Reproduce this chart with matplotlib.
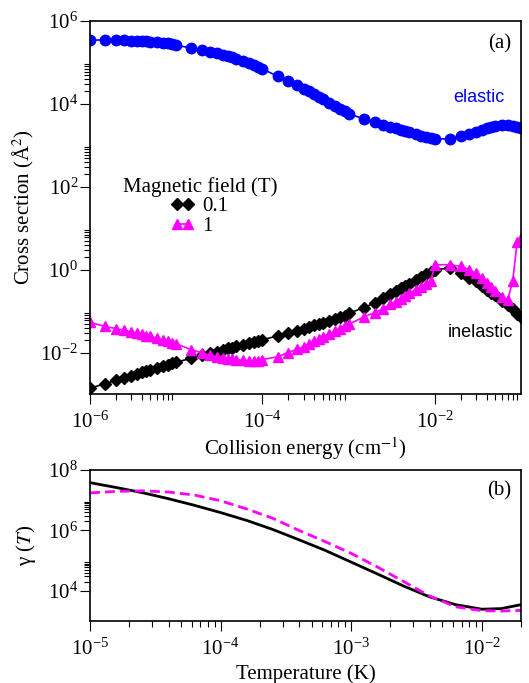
import matplotlib
matplotlib.use('Agg')
import numpy as np
import matplotlib.pyplot as plt
from matplotlib.ticker import FixedLocator, NullFormatter

# ---- panel (a): cross sections vs collision energy ----
mantissas = [1, 1.5, 2, 2.5, 3, 3.5, 4, 4.5, 5, 6, 7, 8, 9]
decades = [-6, -5, -4, -3, -2]
energy = [m * 10.0 ** d for d in decades for m in mantissas] + [0.1]

# log10 of cross section (A^2)
elastic_log10 = [
    5.54, 5.54, 5.535, 5.53, 5.525, 5.52, 5.51, 5.505, 5.50, 5.49, 5.475, 5.46, 5.445,
    5.41, 5.35, 5.30, 5.26, 5.23, 5.19, 5.15, 5.12, 5.09, 5.03, 4.98, 4.93, 4.88,
    4.84, 4.67, 4.55, 4.46, 4.37, 4.30, 4.23, 4.17, 4.12, 4.03, 3.95, 3.88, 3.82,
    3.76, 3.64, 3.56, 3.50, 3.45, 3.41, 3.37, 3.34, 3.31, 3.27, 3.23, 3.20, 3.18,
    3.15, 3.16, 3.22, 3.28, 3.33, 3.37, 3.41, 3.44, 3.46, 3.49, 3.49, 3.47, 3.45, 3.42]
inel_01T_log10 = [
    -2.86, -2.75, -2.67, -2.61, -2.56, -2.52, -2.48, -2.45, -2.42, -2.37, -2.33, -2.29, -2.26,
    -2.23, -2.14, -2.07, -2.02, -1.98, -1.94, -1.90, -1.88, -1.85, -1.81, -1.77, -1.74, -1.71,
    -1.69, -1.60, -1.53, -1.47, -1.42, -1.38, -1.34, -1.31, -1.28, -1.23, -1.18, -1.14, -1.11,
    -1.05, -0.92, -0.80, -0.68, -0.58, -0.51, -0.45, -0.39, -0.34, -0.26, -0.18, -0.11, -0.06,
    0.00, 0.04, -0.08, -0.20, -0.27, -0.39, -0.48, -0.56, -0.62, -0.75, -0.86, -0.96, -1.06, -1.15]
inel_1T_log10 = [
    -1.27, -1.37, -1.42, -1.46, -1.50, -1.53, -1.56, -1.59, -1.61, -1.66, -1.70, -1.73, -1.76,
    -1.79, -1.93, -2.01, -2.07, -2.10, -2.13, -2.15, -2.16, -2.17, -2.19, -2.20, -2.20, -2.20,
    -2.17, -2.10, -2.00, -1.92, -1.86, -1.79, -1.72, -1.67, -1.62, -1.55, -1.48, -1.42, -1.37,
    -1.32, -1.14, -1.04, -0.94, -0.84, -0.77, -0.70, -0.63, -0.57, -0.48, -0.41, -0.34, -0.27,
    0.12, 0.12, 0.08, 0.00, -0.09, -0.19, -0.31, -0.42, -0.52, -0.66, -0.73, -0.27, 0.66, 0.76]

# ---- panel (b): gamma(T) vs temperature ----
temp_log10 = [-5.0, -4.8, -4.6, -4.4, -4.2, -4.0, -3.8, -3.6, -3.4, -3.2,
              -3.0, -2.8, -2.6, -2.4, -2.2, -2.0, -1.85, -1.7]
gamma_01T_log10 = [7.58, 7.42, 7.25, 7.05, 6.83, 6.59, 6.33, 6.03, 5.69, 5.34,
                   4.95, 4.56, 4.16, 3.80, 3.54, 3.39, 3.41, 3.54]
gamma_1T_log10 = [7.24, 7.29, 7.31, 7.27, 7.17, 6.98, 6.71, 6.40, 6.00, 5.63,
                  5.24, 4.79, 4.31, 3.83, 3.47, 3.34, 3.33, 3.35]

BLUE = '#0000ff'
MAGENTA = '#ff00ff'

plt.rcParams['font.family'] = ['Liberation Serif', 'DejaVu Serif']
plt.rcParams['mathtext.fontset'] = 'stix'
plt.rcParams['axes.unicode_minus'] = False


def minor_ticks(exps, lo, hi):
    return [k * 10.0 ** e for e in exps for k in range(2, 10) if lo <= k * 10.0 ** e <= hi]


def style_axis(ax, xmaj, xmin, ymaj, ymin):
    ax.xaxis.set_major_locator(FixedLocator(xmaj))
    ax.xaxis.set_minor_locator(FixedLocator(xmin))
    ax.yaxis.set_major_locator(FixedLocator(ymaj))
    ax.yaxis.set_minor_locator(FixedLocator(ymin))
    ax.xaxis.set_minor_formatter(NullFormatter())
    ax.yaxis.set_minor_formatter(NullFormatter())
    ax.tick_params(which='both', direction='out', top=False, right=False,
                   width=0.8, labelsize=15)
    ax.tick_params(which='major', length=7.5)
    ax.tick_params(which='minor', length=4)
    ax.tick_params(axis='x', which='major', pad=5)
    ax.tick_params(axis='y', which='major', pad=1)
    for s in ax.spines.values():
        s.set_linewidth(1.2)


fig = plt.figure(figsize=(5.29, 6.83), dpi=100)
ax1 = fig.add_axes([0.170, 0.4231, 0.815, 0.5462])
ax2 = fig.add_axes([0.170, 0.0908, 0.815, 0.2211])

# panel (a)
ax1.set_xscale('log')
ax1.set_yscale('log')
ax1.plot(energy, 10 ** np.array(elastic_log10), '-o', color=BLUE, ms=7.5, lw=1.2)
ax1.plot(energy, 10 ** np.array(inel_01T_log10), '-D', color='black', ms=5.8, lw=1.2,
         label='0.1')
ax1.plot(energy, 10 ** np.array(inel_1T_log10), '-^', color=MAGENTA, ms=7.5, lw=1.2,
         label='1')
ax1.set_xlim(1e-6, 1e-1)
ax1.set_ylim(1e-3, 1e6)
style_axis(ax1, [1e-6, 1e-4, 1e-2], minor_ticks([-6, -4, -2], 1e-6, 1e-1),
           [1e-2, 1e0, 1e2, 1e4, 1e6], minor_ticks([-2, 0, 2, 4], 1e-3, 1e6))
ax1.set_xlabel('Collision energy (cm$^{-1}$)', fontsize=15)
ax1.set_ylabel('Cross section (Å$^{2}$)', fontsize=15)
ax1.xaxis.set_label_coords(0.5, -0.11)
ax1.yaxis.set_label_coords(-0.125, 0.5)

ax1.text(0.977, 0.938, '(a)', transform=ax1.transAxes, ha='right', va='center', fontsize=15)
ax1.text(0.962, 0.795, 'elastic', transform=ax1.transAxes, ha='right', va='center',
         fontsize=13, color=BLUE, family='Liberation Sans')
ax1.text(0.981, 0.166, 'inelastic', transform=ax1.transAxes, ha='right', va='center',
         fontsize=13, color='black', family='Liberation Sans')

ax1.legend(title='Magnetic field (T)', loc='upper center', bbox_to_anchor=(0.255, 0.61),
           frameon=False, fontsize=15, title_fontsize=15, numpoints=2,
           handlelength=1.1, handletextpad=0.4, labelspacing=0.0, borderpad=0)

# panel (b)
temp = 10 ** np.array(temp_log10)
ax2.set_xscale('log')
ax2.set_yscale('log')
ax2.plot(temp, 10 ** np.array(gamma_01T_log10), color='black', lw=2.0)
ax2.plot(temp, 10 ** np.array(gamma_1T_log10), color=MAGENTA, lw=2.0, ls=(0, (3.6, 1.8)))
ax2.set_xlim(1e-5, 2e-2)
ax2.set_ylim(1e3, 1e8)
style_axis(ax2, [1e-5, 1e-4, 1e-3, 1e-2], minor_ticks([-5, -4, -3, -2], 1e-5, 2e-2),
           [1e4, 1e6, 1e8], minor_ticks([4, 6], 1e3, 1e8))
ax2.set_xlabel('Temperature (K)', fontsize=15)
ax2.set_ylabel('γ ($T$)', fontsize=15)
ax2.xaxis.set_label_coords(0.5, -0.285)
ax2.yaxis.set_label_coords(-0.12, 0.5)
ax2.text(0.977, 0.86, '(b)', transform=ax2.transAxes, ha='right', va='center', fontsize=15)

fig.savefig('out.png', dpi=100)
